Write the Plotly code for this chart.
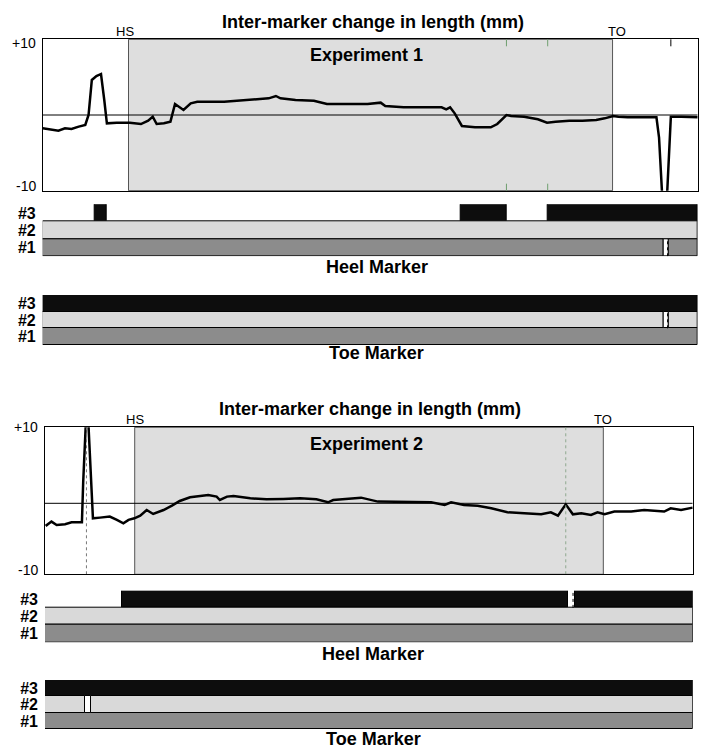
import plotly.graph_objects as go

W, H = 702, 749
FONT = "Liberation Sans, Arial, sans-serif"

# ---------------- data ----------------
# x = percent of the recorded window, y = inter-marker change in length (mm)
exp1_x = [0.0, 1.0, 2.4, 3.4, 4.4, 5.5, 6.5, 7.0, 7.5, 8.2, 8.9, 9.4, 9.8, 11.3, 13.3,
          15.0, 16.1, 16.8, 17.4, 18.5, 19.5, 20.2, 20.9, 21.5, 22.6, 23.6, 27.7, 31.8,
          34.5, 35.6, 36.3, 38.6, 41.4, 43.4, 46.9, 49.6, 51.6, 52.3, 55.1, 58.5, 60.9,
          61.6, 62.2, 62.9, 64.0, 66.0, 68.4, 69.4, 70.8, 71.5, 73.5, 75.6, 77.0, 78.3,
          80.4, 82.4, 84.5, 85.8, 87.1, 87.9, 89.3, 91.3, 93.7, 94.1, 94.6, 95.3, 95.9,
          97.5, 100.0]
exp1_y = [-1.76, -1.89, -2.07, -1.76, -1.85, -1.54, -1.32, 0.0, 4.63, 5.15, 5.42, 1.98,
          -1.10, -1.01, -1.01, -1.19, -0.75, -0.22, -1.19, -1.10, -0.88, 1.45, 1.01, 0.66,
          1.54, 1.76, 1.76, 1.98, 2.20, 2.51, 2.20, 1.98, 1.89, 1.45, 1.45, 1.45, 1.63,
          1.19, 1.01, 1.01, 1.01, 0.75, 1.01, 0.22, -1.45, -1.63, -1.63, -1.19, 0.0, -0.13,
          -0.22, -0.57, -1.01, -0.88, -0.75, -0.75, -0.66, -0.44, -0.13, -0.22, -0.31,
          -0.31, -0.31, -3.0, -11.0, -11.0, -0.22, -0.22, -0.31]

exp2_x = [0.1, 1.0, 1.8, 3.1, 4.1, 5.7, 5.9, 6.3, 6.7, 7.1, 7.4, 8.5, 10.0, 11.1, 12.1,
          12.9, 13.8, 14.7, 15.7, 16.7, 18.3, 19.6, 20.8, 22.4, 23.9, 25.2, 26.5, 27.0,
          28.1, 29.1, 31.7, 34.2, 36.8, 39.4, 41.9, 43.2, 43.7, 44.5, 47.2, 48.8, 51.4,
          55.5, 59.6, 61.7, 62.7, 64.7, 66.8, 68.9, 71.4, 74.0, 76.6, 78.1, 79.2, 80.4,
          81.5, 82.8, 84.3, 85.3, 86.4, 87.9, 90.5, 92.5, 95.6, 96.6, 98.2, 100.0]
exp2_y = [-3.42, -2.83, -3.29, -3.20, -2.93, -2.93, 2.60, 10.5, 10.5, 2.60, -2.38, -2.29,
          -2.15, -2.60, -3.06, -2.60, -2.38, -2.02, -1.25, -1.79, -1.25, -0.66, -0.02,
          0.48, 0.70, 0.79, 0.57, 0.11, 0.57, 0.66, 0.34, 0.20, 0.25, 0.34, 0.20, -0.02,
          -0.20, 0.11, 0.34, 0.43, -0.11, -0.11, -0.20, -0.57, -0.20, -0.57, -0.66, -1.02,
          -1.56, -1.70, -1.84, -1.56, -2.02, -0.48, -1.84, -1.70, -1.93, -1.56, -1.84,
          -1.47, -1.47, -1.25, -1.47, -1.02, -1.25, -0.93]

exp1_ref = 0.0
exp2_ref = -0.34
exp1_stance = [13.1, 87.0]          # HS, TO
exp2_stance = [13.85, 86.2]
exp1_event_ticks = [70.8, 77.1]     # small green ticks on the frame
exp1_top_ticks = [95.9]
exp2_dotted_events = [6.4, 80.4]
y_limits = [-10, 10]
y_limit_text = ["-10", "+10"]

row_names = ["#1", "#2", "#3"]
row_colors = {1: "#8c8c8c", 2: "#d9d9d9", 3: "#0d0d0d"}

# segments per row (start, end), percent of window
exp1_heel_r3 = [(8.0, 9.7), (63.8, 70.9), (77.1, 100.0)]
exp1_heel_r2 = [(0.0, 100.0)]
exp1_heel_r1 = [(0.0, 94.8), (95.6, 100.0)]
exp1_heel_gaps = [(1, 94.8, 95.6, True, True)]      # row, start, end, outlined, dotted

exp1_toe_r3 = [(0.0, 100.0)]
exp1_toe_r2 = [(0.0, 94.8), (95.6, 100.0)]
exp1_toe_r1 = [(0.0, 100.0)]
exp1_toe_gaps = [(2, 94.8, 95.6, True, True)]

exp2_heel_r3 = [(11.9, 80.7), (81.8, 100.0)]
exp2_heel_r2 = [(0.0, 100.0)]
exp2_heel_r1 = [(0.0, 100.0)]
exp2_heel_gaps = [(3, 80.7, 81.8, False, True)]

exp2_toe_r3 = [(0.0, 100.0)]
exp2_toe_r2 = [(0.0, 6.25), (7.1, 100.0)]
exp2_toe_r1 = [(0.0, 100.0)]
exp2_toe_gaps = [(2, 6.25, 7.1, True, False)]

# ---------------- layout helpers ----------------
def ydom(top, bottom):
    return [1 - bottom / H, 1 - top / H]

def xdom(left, right):
    return [left / W, right / W]

fig = go.Figure()
layout = dict(width=W, height=H, margin=dict(l=0, r=0, t=0, b=0, autoexpand=False),
              paper_bgcolor="white", plot_bgcolor="white", showlegend=False,
              barmode="overlay", bargap=0, font=dict(family=FONT, color="black"))
shapes, annotations = [], []

def ax_name(i, kind):
    return kind if i == 1 else f"{kind}{i}"

def ref(i, kind):
    return kind if i == 1 else f"{kind}{i}"

def add_line_panel(i, xd, yd, xs, ys, refv, stance, hs_shift, to_shift, lim_shifts):
    layout[ax_name(i, "xaxis")] = dict(domain=xd, range=[0, 100], showgrid=False, zeroline=False,
                                       showticklabels=False, showline=True, mirror=True,
                                       linecolor="black", linewidth=1, anchor=ref(i, "y"),
                                       automargin=False, ticks="")
    layout[ax_name(i, "yaxis")] = dict(domain=yd, range=y_limits, showgrid=False, zeroline=False,
                                       showticklabels=False, ticks="",
                                       showline=True, mirror=True, linecolor="black",
                                       linewidth=1, anchor=ref(i, "x"), automargin=False)
    xr, yr = ref(i, "x"), ref(i, "y")
    shapes.append(dict(type="rect", xref=xr, yref=f"{yr} domain", x0=stance[0], x1=stance[1],
                       y0=0, y1=1, fillcolor="#dedede", line=dict(color="#555555", width=1),
                       layer="below"))
    fig.add_trace(go.Scatter(x=[0, 100], y=[refv, refv], mode="lines",
                             line=dict(color="black", width=1), xaxis=xr, yaxis=yr,
                             hoverinfo="skip"))
    fig.add_trace(go.Scatter(x=xs, y=ys, mode="lines", line=dict(color="black", width=2.5),
                             xaxis=xr, yaxis=yr))
    for lab, xv, sh in (("HS", stance[0], hs_shift), ("TO", stance[1], to_shift)):
        annotations.append(dict(text=lab, x=xv, y=1, xref=xr, yref=f"{yr} domain",
                                xanchor="center", yanchor="middle", yshift=8, xshift=sh,
                                showarrow=False, font=dict(size=13, family=FONT)))
    # axis limit labels (+10 / -10) at the frame ends
    for val, txt, shift in zip(y_limits, y_limit_text, lim_shifts):
        annotations.append(dict(text=txt, x=0, y=val, xref=f"{xr} domain", yref=yr,
                                xanchor="right", yanchor="middle", xshift=-5, yshift=shift,
                                showarrow=False, font=dict(size=14, family=FONT)))

def add_bar_panel(i, xd, yd, rows, gaps):
    layout[ax_name(i, "xaxis")] = dict(domain=xd, range=[0, 100], visible=False,
                                       anchor=ref(i, "y"), automargin=False)
    layout[ax_name(i, "yaxis")] = dict(domain=yd, range=[0.5, 3.5], showgrid=False,
                                       zeroline=False, tickvals=[1, 2, 3],
                                       ticktext=[f"<b>{n}</b>" for n in row_names], ticks="",
                                       ticklabelstandoff=6, automargin=False,
                                       tickfont=dict(size=16, family=FONT, color="black"),
                                       showline=False, anchor=ref(i, "x"))
    ys, bases, lens, cols, lw = [], [], [], [], []
    for r, segs in rows.items():
        for a, b in segs:
            ys.append(r); bases.append(a); lens.append(b - a)
            cols.append(row_colors[r]); lw.append(1)
    for r, a, b, outlined, dotted in gaps:
        if outlined:
            ys.append(r); bases.append(a); lens.append(b - a)
            cols.append("white"); lw.append(1)
    xr, yr = ref(i, "x"), ref(i, "y")
    fig.add_trace(go.Bar(y=ys, x=lens, base=bases, orientation="h", width=1,
                         marker=dict(color=cols, line=dict(color="black", width=lw)),
                         xaxis=xr, yaxis=yr))
    for r, a, b, outlined, dotted in gaps:
        if dotted:
            mid = b - (b - a) * 0.25
            fig.add_trace(go.Scatter(x=[mid, mid], y=[r - 0.5, r + 0.5], mode="lines",
                                     line=dict(color="black", width=1, dash="dot"),
                                     xaxis=xr, yaxis=yr))

# ---------------- experiment 1 ----------------
X1 = xdom(42.7, 697.7)
add_line_panel(1, X1, ydom(39.3, 190.7), exp1_x, exp1_y, exp1_ref, exp1_stance, -4, 4, (5, -4))
for xv in exp1_event_ticks:
    for y0, y1 in ((1, 1 - 7 / 151.4), (0, 7 / 151.4)):
        shapes.append(dict(type="line", xref="x", yref="y domain", x0=xv, x1=xv, y0=y0, y1=y1,
                           line=dict(color="#6f9f6f", width=1)))
for xv in exp1_top_ticks:
    shapes.append(dict(type="line", xref="x", yref="y domain", x0=xv, x1=xv, y0=1,
                       y1=1 - 7 / 151.4, line=dict(color="black", width=1)))
add_bar_panel(2, X1, ydom(204.3, 256.3), {3: exp1_heel_r3, 2: exp1_heel_r2, 1: exp1_heel_r1},
              exp1_heel_gaps)
add_bar_panel(3, X1, ydom(295.0, 345.0), {3: exp1_toe_r3, 2: exp1_toe_r2, 1: exp1_toe_r1},
              exp1_toe_gaps)

# ---------------- experiment 2 ----------------
X2 = xdom(45.0, 692.7)
add_line_panel(4, X2, ydom(427.3, 574.3), exp2_x, exp2_y, exp2_ref, exp2_stance, 0, 0, (4, 0))
for xv, col in zip(exp2_dotted_events, ["#777777", "#8fa88f"]):
    fig.add_trace(go.Scatter(x=[xv, xv], y=y_limits, mode="lines",
                             line=dict(color=col, width=1, dash="dot"),
                             xaxis="x4", yaxis="y4"))
add_bar_panel(5, X2, ydom(590.7, 642.3), {3: exp2_heel_r3, 2: exp2_heel_r2, 1: exp2_heel_r1},
              exp2_heel_gaps)
add_bar_panel(6, X2, ydom(680.0, 729.3), {3: exp2_toe_r3, 2: exp2_toe_r2, 1: exp2_toe_r1},
              exp2_toe_gaps)

# ---------------- text ----------------
def paper_text(text, xpx, ypx, size=18, bold=True):
    annotations.append(dict(text=f"<b>{text}</b>" if bold else text, x=xpx / W, y=1 - ypx / H,
                            xref="paper", yref="paper", xanchor="center", yanchor="middle",
                            showarrow=False, font=dict(size=size, family=FONT, color="black")))

paper_text("Inter-marker change in length (mm)", 373, 21.5)
paper_text("Experiment 1", 367, 55)
paper_text("Heel Marker", 377, 266.5)
paper_text("Toe Marker", 376, 353)
paper_text("Inter-marker change in length (mm)", 370, 409)
paper_text("Experiment 2", 367, 444)
paper_text("Heel Marker", 373, 654)
paper_text("Toe Marker", 373, 739)

layout["shapes"] = shapes
layout["annotations"] = annotations
fig.update_layout(**layout)
fig.write_html("out.html", config={"displayModeBar": False},
               post_script="document.body.style.margin='0';document.body.style.padding='0';")
